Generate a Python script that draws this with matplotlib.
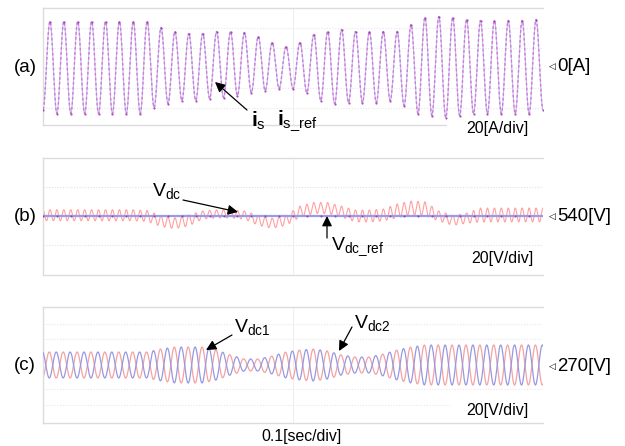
import numpy as np
import matplotlib
matplotlib.use("Agg")
import matplotlib.pyplot as plt
from matplotlib.patches import Rectangle

# ---------------- data ----------------
freq_hz = 60          # fundamental frequency
span_s = 0.6          # 6 divisions of 0.1 s
# (a) source current extremes [A]: trough at each cycle start, peak at mid-cycle
is_troughs = [-42, -46, -46, -46, -46, -46, -46, -46, -40, -36, -33, -33, -31,
              -30, -28, -25, -23, -21, -21, -25, -33, -36, -35, -35, -35, -33,
              -38, -46, -48, -50, -48, -46, -46, -46, -46, -46, -42]
is_peaks = [46, 46, 46, 46, 46, 46, 46, 46, 40, 36, 34, 34, 36, 36, 35, 31, 25,
            21, 25, 33, 36, 38, 36, 36, 36, 36, 43, 50, 51, 50, 48, 47, 47, 47,
            47, 48]
# (b) DC-link voltage: per-cycle mean offset from reference and 2f ripple amplitude [V]
vdc_ref = 540
vdc_offset = [0.5, 0.5, 0.5, 0.5, 0.5, 0.5, 0.5, 0.0, -3.5, -5.0, -3.0, 0.7,
              1.4, 1.4, 0.7, -3.0, -5.0, -3.0, 3.0, 5.5, 5.5, 3.0, 0.0, 0.0,
              0.7, 3.5, 5.5, 5.0, 0.0, -3.0, -1.5, 0.7, 0.7, 0.7, 0.7, 0.7]
vdc_ripple = [3.8, 3.8, 3.8, 3.8, 3.8, 3.8, 3.8, 3.8, 3.8, 3.8, 3.8, 2.8, 2.8,
              2.8, 2.8, 3.5, 3.5, 3.5, 3.8, 3.8, 3.8, 3.8, 4.1, 4.1, 4.1, 4.8,
              4.8, 4.8, 3.5, 3.5, 3.5, 4.8, 4.8, 4.8, 4.8, 4.8]
# (c) split capacitor voltages: per-cycle oscillation amplitude [V]
vsplit_ref = 270
vsplit_amp = [13, 13, 13, 13, 13, 13, 13, 13, 16, 18, 18, 18, 15, 10, 6, 6, 9,
              13, 15, 16, 14, 10, 8, 8, 11, 15, 18, 20, 20, 20, 20, 20, 20, 20,
              20, 20]

# ---------------- figure ----------------
plt.rcParams["font.family"] = ["Liberation Sans", "DejaVu Sans"]
plt.rcParams["mathtext.fontset"] = "custom"
plt.rcParams["mathtext.rm"] = "Liberation Sans"
plt.rcParams["mathtext.it"] = "Liberation Sans"
plt.rcParams["mathtext.bf"] = "Liberation Sans:bold"

W, H = 625, 446
fig = plt.figure(figsize=(W / 100, H / 100), dpi=100)
fig.patch.set_facecolor("white")


def fx(x):
    return x / W


def fy(y):
    return 1 - y / H


def make_ax(top, bottom, left=43, right=543):
    ax = fig.add_axes([fx(left), fy(bottom), (right - left) / W, (bottom - top) / H])
    ax.set_xticks([])
    ax.set_yticks([])
    for s in ["top", "bottom", "left"]:
        ax.spines[s].set_color("#dcdcdc")
        ax.spines[s].set_linewidth(1.0)
    ax.spines["right"].set_visible(False)
    ax.set_xlim(0, span_s)
    ax.axvline(span_s / 2, color="#efefef", lw=0.8, zorder=0)
    return ax


def half_cos(times, values, t):
    """Smooth trace that passes through the read extremes."""
    times = np.asarray(times)
    values = np.asarray(values, dtype=float)
    idx = np.clip(np.searchsorted(times, t, side="right") - 1, 0, len(times) - 2)
    t0, t1 = times[idx], times[idx + 1]
    s = (t - t0) / (t1 - t0)
    w = (1 - np.cos(np.pi * s)) / 2
    return values[idx] + (values[idx + 1] - values[idx]) * w


T = 1 / freq_hz
t = np.linspace(0, span_s, 6000)
ncyc = len(is_peaks)

# ---- (a) ----
axa = make_ax(8, 125)
axa.set_ylim(-57.5, 59.5)
for g in [-40, -20, 0, 20, 40]:
    axa.axhline(g, color="#e8e8e8", lw=0.8, ls=(0, (1, 1.5)), zorder=0)
ext_t, ext_v = [], []
for k in range(ncyc):
    ext_t += [k * T, (k + 0.5) * T]
    ext_v += [is_troughs[k], is_peaks[k]]
ext_t.append(ncyc * T)
ext_v.append(is_troughs[ncyc])
i_trace = half_cos(ext_t, ext_v, t)
axa.plot(t, i_trace, color="#c0c0f2", lw=0.8, zorder=2)
axa.plot(t, i_trace, color="#d27ad6", lw=1.0, ls=(0, (2.0, 1.6)), zorder=3)
axa.plot(ext_t, ext_v, ls="none", marker="o", ms=1.6, mew=0, color="#9a3aa8",
         alpha=0.85, zorder=4)

# ---- (b) ----
axb = make_ax(158, 275)
axb.set_ylim(499.3, 580.0)
for g in [520, 560]:
    axb.axhline(g, color="#e2e2e2", lw=0.8, ls=(0, (1, 1.5)), zorder=0)
cyc_mid = (np.arange(ncyc) + 0.5) * T
off = np.interp(t, cyc_mid, vdc_offset)
rip = np.interp(t, cyc_mid, vdc_ripple)
vdc = vdc_ref + off + rip * np.cos(2 * np.pi * 2 * freq_hz * t)
axb.plot(t, vdc, color="#ffa0a0", lw=0.8, zorder=2)
axb.plot([0, span_s], [vdc_ref, vdc_ref], color="#9a9aea", lw=1.6, zorder=3)
dot_t = np.arange(0, span_s, T)
axb.plot(dot_t, np.full(len(dot_t), vdc_ref), ls="none", marker="o", ms=1.5,
         mew=0, color="#8a3a9a", alpha=0.8, zorder=4)

# ---- (c) ----
axc = make_ax(307, 423)
axc.set_ylim(vsplit_ref - 58, vsplit_ref + 58)
for g in [41, 26, -24, -40]:
    axc.axhline(vsplit_ref + g, color="#e8e8e8", lw=0.8, ls=(0, (1, 1.5)), zorder=0)
amp = np.interp(t, cyc_mid, vsplit_amp)
carrier = np.cos(2 * np.pi * freq_hz * t + 0.3)
axc.plot(t, vsplit_ref - amp * carrier, color="#f4a2a2", lw=0.9, zorder=2)
axc.plot(t, vsplit_ref + amp * carrier, color="#9898e2", lw=0.9, zorder=3)

# ---------------- white boxes under the scale labels ----------------
fig.patches.append(Rectangle((fx(447), fy(140)), (545 - 447) / W, 21 / H,
                             transform=fig.transFigure, facecolor="white",
                             edgecolor="none", zorder=5))
fig.patches.append(Rectangle((fx(450), fy(420)), (545 - 450) / W, 20 / H,
                             transform=fig.transFigure, facecolor="white",
                             edgecolor="none", zorder=5))

# ---------------- texts ----------------
def txt(x, y, s, size, ha="left", va="center", **kw):
    fig.text(fx(x), fy(y), s, fontsize=size, ha=ha, va=va, zorder=6, **kw)


txt(25, 67, "(a)", 13.5, ha="center")
txt(25, 216, "(b)", 13.5, ha="center")
txt(25, 365, "(c)", 13.5, ha="center")

for y, lab in [(66, "0[A]"), (216, "540[V]"), (366, "270[V]")]:
    fig.text(fx(552), fy(y), "\u25C1", fontsize=6.5, ha="center", va="center",
             family="DejaVu Sans", zorder=6)
    txt(557, y + 0.5, lab, 13.4)

txt(497, 129, "20[A/div]", 11.5, ha="center")
txt(502, 258, "20[V/div]", 11.5, ha="center")
txt(497, 410, "20[V/div]", 11.5, ha="center")
txt(302, 436, "0.1[sec/div]", 11.4, ha="center")

txt(251, 121, r"$\mathbf{i}_{\mathrm{s}}$", 15)
txt(277, 121, r"$\mathbf{i}_{\mathrm{s\_ref}}$", 15)
txt(152, 191, r"V$_{\mathrm{dc}}$", 14)
txt(331, 247, r"V$_{\mathrm{dc\_ref}}$", 14)
txt(234, 327, r"V$_{\mathrm{dc1}}$", 14)
txt(354, 323, r"V$_{\mathrm{dc2}}$", 14)


def arrow(tail, head):
    fig.add_artist(matplotlib.patches.FancyArrowPatch(
        (fx(tail[0]), fy(tail[1])), (fx(head[0]), fy(head[1])),
        transform=fig.transFigure, arrowstyle="-|>", mutation_scale=15,
        lw=0.9, color="black", shrinkA=0, shrinkB=0, zorder=7))


arrow((247, 110), (215, 82))
arrow((183, 200), (238, 212))
arrow((327, 238), (327, 216))
arrow((232, 335), (206, 350))
arrow((352, 327), (339, 351))

fig.savefig("out.png", dpi=100, facecolor="white")
